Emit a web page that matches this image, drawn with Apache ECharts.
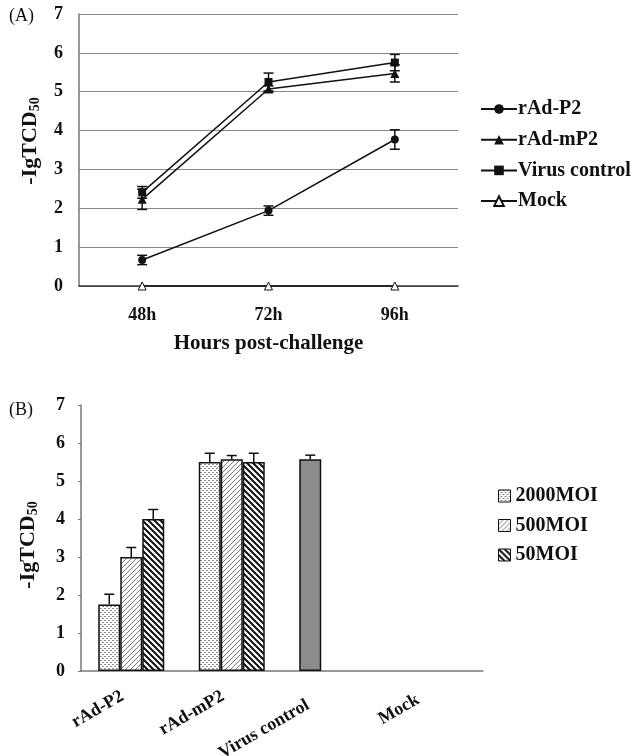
<!DOCTYPE html>
<html>
<head>
<meta charset="utf-8">
<script src="https://cdn.jsdelivr.net/npm/echarts@6/dist/echarts.min.js"></script>
<style>
  html, body { margin: 0; padding: 0; background: #fff; }
  #main { width: 640px; height: 756px; }
</style>
</head>
<body>
<div id="main"></div>
<script>
// panel A: time course
var hours = ['48h', '72h', '96h'];
var p2 = [0.67, 1.94, 3.77];
var p2Err = [0.12, 0.12, 0.25];
var mp2 = [2.23, 5.07, 5.47];
var mp2Err = [0.26, 0.08, 0.22];
var virus = [2.41, 5.25, 5.75];
var virusErr = [0.15, 0.23, 0.21];
var mock = [0, 0, 0];

// panel B: dose
var groups = ['rAd-P2', 'rAd-mP2', 'Virus control', 'Mock'];
var moi2000 = [1.75, 5.5, 5.57, 0];
var moi2000Err = [0.27, 0.23, 0.11, 0];
var moi500 = [3.0, 5.57, null, 0];
var moi500Err = [0.25, 0.1, null, 0];
var moi50 = [4.0, 5.5, null, 0];
var moi50Err = [0.25, 0.23, null, 0];

var serif = 'Liberation Serif';

function pattern(kind) {
    var c = document.createElement('canvas');
    var ctx = c.getContext('2d');
    if (kind === 'dots') {
        c.width = 4; c.height = 4;
        ctx.fillStyle = '#fff'; ctx.fillRect(0, 0, 4, 4);
        ctx.fillStyle = '#8a8a8a';
        ctx.fillRect(0, 0, 2, 1);
        ctx.fillRect(2, 2, 2, 1);
    } else if (kind === 'light') {
        c.width = 5; c.height = 5;
        ctx.fillStyle = '#fff'; ctx.fillRect(0, 0, 5, 5);
        ctx.strokeStyle = '#777'; ctx.lineWidth = 1;
        ctx.beginPath();
        ctx.moveTo(-1, 6); ctx.lineTo(6, -1);
        ctx.stroke();
    } else {
        c.width = 6; c.height = 6;
        ctx.fillStyle = '#fff'; ctx.fillRect(0, 0, 6, 6);
        ctx.strokeStyle = '#111'; ctx.lineWidth = 2;
        ctx.beginPath();
        ctx.moveTo(-1, -1); ctx.lineTo(7, 7);
        ctx.moveTo(-4, 2); ctx.lineTo(4, 10);
        ctx.moveTo(2, -4); ctx.lineTo(10, 4);
        ctx.stroke();
    }
    return { image: c, repeat: 'repeat' };
}

function errSeries(vals, errs, xi, yi, offset, cap, upOnly) {
    var d = [];
    vals.forEach(function (v, i) {
        if (v !== null && errs[i]) d.push([i, v, errs[i]]);
    });
    return {
        type: 'custom', xAxisIndex: xi, yAxisIndex: yi, z: 10, silent: true,
        data: d,
        renderItem: function (params, api) {
            var x = api.value(0), v = api.value(1), e = api.value(2);
            var top = api.coord([x, v + e]);
            var bot = api.coord([x, upOnly ? v : v - e]);
            var px = top[0] + offset;
            var st = { stroke: '#111', lineWidth: 1.5 };
            var kids = [
                { type: 'line', shape: { x1: px, y1: top[1], x2: px, y2: bot[1] }, style: st },
                { type: 'line', shape: { x1: px - cap, y1: top[1], x2: px + cap, y2: top[1] }, style: st }
            ];
            if (!upOnly) kids.push({ type: 'line', shape: { x1: px - cap, y1: bot[1], x2: px + cap, y2: bot[1] }, style: st });
            return { type: 'group', children: kids };
        }
    };
}

function lineS(name, data, symbol, size, hollow) {
    return {
        name: name, type: 'line', xAxisIndex: 0, yAxisIndex: 0, data: data,
        symbol: symbol, symbolSize: size, z: 5,
        lineStyle: { color: '#111', width: 1.5 },
        itemStyle: hollow ? { color: '#fff', borderColor: '#111', borderWidth: 1 } : { color: '#111' }
    };
}

var barW = 22;
var fill2000 = pattern('dots'), fill500 = pattern('light'), fill50 = pattern('dark');

// zero bars get no outline, the control bar is solid grey
function barData(vals, greyAt) {
    return vals.map(function (v, i) {
        if (v === 0) return { value: v, itemStyle: { borderWidth: 0 } };
        if (i === greyAt) return { value: v, itemStyle: { color: '#8c8c8c' } };
        return v;
    });
}

function barS(name, data, fill) {
    return {
        name: name, type: 'bar', xAxisIndex: 1, yAxisIndex: 1, data: data,
        barWidth: barW, barGap: '0%',
        itemStyle: { color: fill, borderColor: '#111', borderWidth: 1.5 }
    };
}

var axisFont = { fontFamily: serif, fontWeight: 'bold', fontSize: 18, color: '#111' };
function yName(pad) {
    return {
        padding: pad,
        rich: {
            a: { fontFamily: serif, fontWeight: 'bold', fontSize: 22, color: '#111' },
            s: { fontFamily: serif, fontWeight: 'bold', fontSize: 14, color: '#111', padding: [10, 0, 0, 0] }
        }
    };
}
var legendText = { fontFamily: serif, fontWeight: 'bold', fontSize: 20, lineHeight: 20, color: '#111' };

var chart = echarts.init(document.getElementById('main'));
chart.setOption({
    backgroundColor: '#fff',
    animation: false,
    graphic: [
        { type: 'text', left: 9, top: 7, style: { text: '(A)', font: '18px "Liberation Serif"', fill: '#111' } },
        { type: 'text', left: 9, top: 401, style: { text: '(B)', font: '18px "Liberation Serif"', fill: '#111' } }
    ],
    legend: [
        {
            data: ['rAd-P2', 'rAd-mP2', 'Virus control', 'Mock'],
            orient: 'vertical', left: 475, top: 94, itemWidth: 36, itemHeight: 12, itemGap: 10.7,
            textStyle: Object.assign({ padding: [0, 0, 0, -4] }, legendText)
        },
        {
            data: ['2000MOI', '500MOI', '50MOI'],
            orient: 'vertical', left: 493, top: 481, icon: 'rect', itemWidth: 12, itemHeight: 12, itemGap: 9.5,
            itemStyle: { borderColor: '#111', borderWidth: 1 },
            textStyle: legendText
        }
    ],
    grid: [
        { left: 79, top: 14, width: 379, height: 272, outerBoundsMode: 'none' },
        { left: 81, top: 405, width: 402, height: 266, outerBoundsMode: 'none' }
    ],
    xAxis: [
        {
            type: 'category', gridIndex: 0, data: hours,
            name: 'Hours post-challenge', nameLocation: 'middle', nameGap: 47,
            nameTextStyle: { fontFamily: serif, fontWeight: 'bold', fontSize: 21, color: '#111' },
            axisLine: { lineStyle: { color: '#333', width: 1.5 } },
            axisTick: { inside: true, length: 5, lineStyle: { color: '#333' } },
            axisLabel: Object.assign({ margin: 20 }, axisFont)
        },
        {
            type: 'category', gridIndex: 1, data: groups,
            axisLine: { lineStyle: { color: '#777', width: 1.5 } },
            axisTick: { inside: true, length: 5, lineStyle: { color: '#555' } },
            axisLabel: Object.assign({
                rotate: 30, margin: 19, padding: [0, 10, 0, 0],
                formatter: function (v) {
                    if (v === 'Virus control') return '{w|' + v + '}';
                    if (v === 'Mock') return '{m|' + v + '}';
                    return v;
                },
                rich: {
                    w: Object.assign({ padding: [0, 18, 0, 0] }, axisFont),
                    m: Object.assign({ padding: [0, 7, 0, 0] }, axisFont)
                }
            }, axisFont)
        }
    ],
    yAxis: [
        {
            type: 'value', gridIndex: 0, min: 0, max: 7, interval: 1,
            name: '{a|-IgTCD}{s|50}', nameLocation: 'middle', nameGap: 37, nameRotate: 90,
            nameTextStyle: yName([0, 0, 0, 18]),
            axisLine: { show: true, lineStyle: { color: '#777', width: 1.5 } },
            axisTick: { show: false },
            splitLine: { show: true, lineStyle: { color: '#888', width: 1.2 } },
            axisLabel: Object.assign({ margin: 16 }, axisFont)
        },
        {
            type: 'value', gridIndex: 1, min: 0, max: 7, interval: 1,
            name: '{a|-IgTCD}{s|50}', nameLocation: 'middle', nameGap: 41, nameRotate: 90,
            nameTextStyle: yName([0, 14, 0, 0]),
            axisLine: { show: true, lineStyle: { color: '#777', width: 1.5 } },
            axisTick: { show: true, length: 3, lineStyle: { color: '#777' } },
            splitLine: { show: false },
            axisLabel: Object.assign({ margin: 16 }, axisFont)
        }
    ],
    series: [
        lineS('rAd-P2', p2, 'circle', 8),
        lineS('rAd-mP2', mp2, 'triangle', 9),
        lineS('Virus control', virus, 'rect', 8),
        lineS('Mock', mock, 'triangle', 8, true),
        errSeries(p2, p2Err, 0, 0, 0, 5, false),
        errSeries(mp2, mp2Err, 0, 0, 0, 5, false),
        errSeries(virus, virusErr, 0, 0, 0, 5, false),
        barS('2000MOI', barData(moi2000, 2), fill2000),
        barS('500MOI', barData(moi500, -1), fill500),
        barS('50MOI', barData(moi50, -1), fill50),
        errSeries(moi2000, moi2000Err, 1, 1, -barW, 5, true),
        errSeries(moi500, moi500Err, 1, 1, 0, 5, true),
        errSeries(moi50, moi50Err, 1, 1, barW, 5, true)
    ]
});
</script>
</body>
</html>
